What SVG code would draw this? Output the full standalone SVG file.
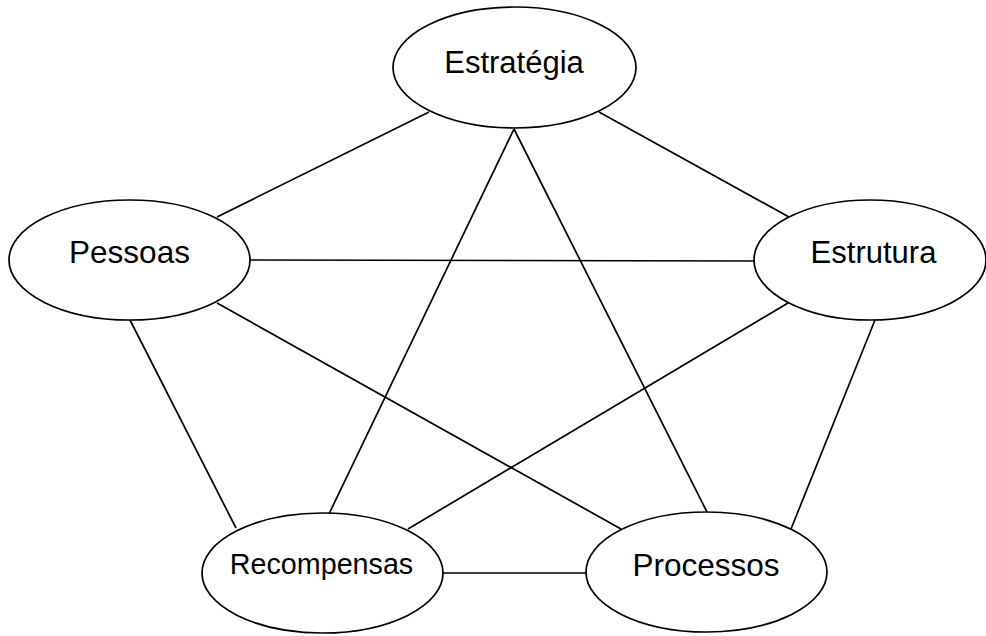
<svg xmlns="http://www.w3.org/2000/svg" width="986" height="636" viewBox="0 0 986 636">
<style>
.n ellipse{fill:#fff;stroke:#000;stroke-width:1.7}
.n text{font-family:"Liberation Sans",Arial,sans-serif;fill:#000;text-anchor:middle}
#edges line{stroke:#000;stroke-width:1.7}
</style>
<rect width="986" height="636" fill="#fff"/>
<g id="edges">
<line x1="429" y1="112" x2="217" y2="217"/>
<line x1="599" y1="112" x2="789" y2="217"/>
<line x1="514" y1="129" x2="328" y2="516"/>
<line x1="514" y1="129" x2="707" y2="512"/>
<line x1="250" y1="260" x2="754" y2="261"/>
<line x1="130" y1="320" x2="236" y2="528"/>
<line x1="217" y1="303" x2="621" y2="529"/>
<line x1="788" y1="303" x2="408" y2="529"/>
<line x1="875" y1="320" x2="791" y2="529"/>
<line x1="443" y1="573" x2="586" y2="573"/>
</g>
<g id="estrategia" class="n"><ellipse cx="514.5" cy="67.5" rx="121.5" ry="60.5"/><text x="514" y="73" font-size="31">Estratégia</text></g>
<g id="pessoas" class="n"><ellipse cx="129.5" cy="260" rx="120.5" ry="60"/><text x="129.5" y="263" font-size="31.5">Pessoas</text></g>
<g id="estrutura" class="n"><ellipse cx="870" cy="260" rx="116" ry="60"/><text x="873.5" y="263" font-size="31">Estrutura</text></g>
<g id="recompensas" class="n"><ellipse cx="322.5" cy="573" rx="120.5" ry="60"/><text x="321.5" y="574" font-size="28.7">Recompensas</text></g>
<g id="processos" class="n"><ellipse cx="706.5" cy="572" rx="120.5" ry="60"/><text x="706" y="576" font-size="31.5">Processos</text></g>
</svg>
